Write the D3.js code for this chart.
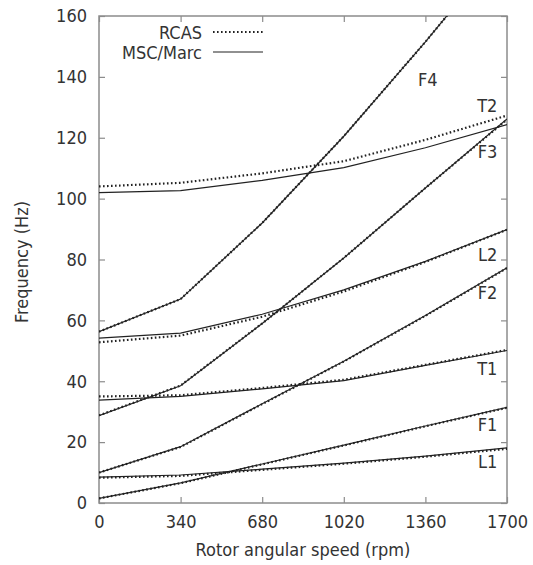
<!DOCTYPE html>
<html>
<head>
<meta charset="utf-8">
<script src="https://cdn.jsdelivr.net/npm/d3@7"></script>
<style>
  body { margin: 0; background: #fff; }
  text { font-family: "DejaVu Sans Condensed", "DejaVu Sans", sans-serif; font-stretch: condensed; fill: #333; }
</style>
</head>
<body>
<div id="cont"></div>
<script>
// Data
var speeds = [0, 340, 680, 1020, 1360, 1700];
var xTicks = [0, 340, 680, 1020, 1360, 1700];
var yTicks = [0, 20, 40, 60, 80, 100, 120, 140, 160];

var modes = ["L1", "F1", "T1", "F2", "L2", "F3", "T2", "F4"];

var rcas = {
  L1: [8.3, 8.9, 10.9, 12.9, 15.2, 17.8],
  F1: [1.5, 6.5, 12.7, 18.9, 25.2, 31.3],
  T1: [35.0, 35.4, 37.8, 40.5, 45.4, 50.3],
  F2: [10.0, 18.4, 32.5, 46.5, 61.5, 77.2],
  L2: [52.8, 55.0, 61.2, 69.5, 79.2, 89.8],
  F3: [28.8, 38.6, 59.0, 80.5, 103.5, 126.0],
  T2: [104.0, 105.2, 108.3, 112.3, 119.3, 127.3],
  F4: [56.3, 67.0, 92.0, 120.5, 151.5, 184.0]
};

var msc = {
  L1: [8.5, 9.2, 11.1, 13.1, 15.4, 18.1],
  F1: [1.5, 6.6, 12.8, 19.0, 25.3, 31.4],
  T1: [33.8, 35.0, 37.5, 40.2, 45.2, 50.1],
  F2: [10.0, 18.5, 32.6, 46.6, 61.6, 77.3],
  L2: [54.2, 55.8, 62.0, 70.0, 79.4, 89.8],
  F3: [28.7, 38.5, 59.0, 80.5, 103.5, 126.2],
  T2: [102.0, 102.6, 106.0, 110.2, 116.7, 124.3],
  F4: [56.3, 67.0, 92.0, 120.5, 151.5, 184.0]
};

// label positions in data units (right side)
var labelPos = {
  F4: [1370, 137],   T2: [1660, 128.5], F3: [1660, 113.5],
  L2: [1660, 79.5],  F2: [1660, 67],    T1: [1660, 42],
  F1: [1660, 23.5],  L1: [1660, 11.5]
};

// Layout
var W = 533, H = 565;
var pLeft = 99, pRight = 507, pTop = 16, pBottom = 503;
var grey = "#8c8c8c";
var ink = "#222";

var svg = d3.select("#cont").append("svg")
    .attr("width", W)
    .attr("height", H);

var x = d3.scaleLinear().domain([0, 1700]).range([pLeft, pRight]);
var y = d3.scaleLinear().domain([0, 160]).range([pBottom, pTop]);

svg.append("clipPath").attr("id", "clip")
  .append("rect")
    .attr("x", pLeft).attr("y", pTop)
    .attr("width", pRight - pLeft).attr("height", pBottom - pTop);

var line = d3.line()
    .x(function(d, i) { return x(speeds[i]); })
    .y(function(d) { return y(d); });

// axes (ticks inward, mirrored)
var fmt = d3.format("d");
var axB = svg.append("g").attr("transform", "translate(0," + pBottom + ")")
    .call(d3.axisBottom(x).tickValues(xTicks).tickSizeInner(-6).tickSizeOuter(0).tickPadding(12).tickFormat(fmt));
var axT = svg.append("g").attr("transform", "translate(0," + pTop + ")")
    .call(d3.axisTop(x).tickValues(xTicks).tickSizeInner(-6).tickSizeOuter(0).tickFormat(""));
var axL = svg.append("g").attr("transform", "translate(" + pLeft + ",0)")
    .call(d3.axisLeft(y).tickValues(yTicks).tickSizeInner(-6).tickSizeOuter(0).tickPadding(12).tickFormat(fmt));
var axR = svg.append("g").attr("transform", "translate(" + pRight + ",0)")
    .call(d3.axisRight(y).tickValues(yTicks).tickSizeInner(-6).tickSizeOuter(0).tickFormat(""));

[axB, axT, axL, axR].forEach(function(a) {
  a.select(".domain").remove();
  a.selectAll("line").attr("stroke", grey).attr("stroke-width", 1.2);
  a.selectAll("text").attr("font-size", 18).attr("fill", "#333")
    .style("font-family", "'DejaVu Sans Condensed', 'DejaVu Sans', sans-serif");
});

svg.append("rect")
    .attr("x", pLeft).attr("y", pTop)
    .attr("width", pRight - pLeft).attr("height", pBottom - pTop)
    .attr("fill", "none").attr("stroke", grey).attr("stroke-width", 1.5);

// curves
var plot = svg.append("g").attr("clip-path", "url(#clip)");

plot.selectAll(".msc").data(modes).enter().append("path")
    .attr("class", "msc")
    .attr("d", function(m) { return line(msc[m]); })
    .attr("fill", "none").attr("stroke", ink).attr("stroke-width", 1.2);

plot.selectAll(".rcas").data(modes).enter().append("path")
    .attr("class", "rcas")
    .attr("d", function(m) { return line(rcas[m]); })
    .attr("fill", "none").attr("stroke", ink).attr("stroke-width", 2.2)
    .attr("stroke-dasharray", "1.6,2.4");

// mode labels
svg.selectAll(".lab").data(modes).enter().append("text")
    .attr("class", "lab")
    .attr("x", function(m) { return x(labelPos[m][0]); })
    .attr("y", function(m) { return y(labelPos[m][1]); })
    .attr("text-anchor", function(m) { return m === "F4" ? "middle" : "end"; })
    .attr("font-size", 18)
    .text(function(m) { return m; });

// legend
var legend = [
  { name: "RCAS", dash: "1.6,2.4", w: 2.2, yy: 32 },
  { name: "MSC/Marc", dash: null, w: 1.2, yy: 52 }
];
var lg = svg.selectAll(".leg").data(legend).enter().append("g").attr("class", "leg");
lg.append("text")
    .attr("x", 202).attr("y", function(d) { return d.yy + 7; })
    .attr("text-anchor", "end").attr("font-size", 18)
    .text(function(d) { return d.name; });
lg.append("line")
    .attr("x1", 213).attr("x2", 263)
    .attr("y1", function(d) { return d.yy; }).attr("y2", function(d) { return d.yy; })
    .attr("stroke", ink).attr("stroke-width", function(d) { return d.w; })
    .attr("stroke-dasharray", function(d) { return d.dash; });

// axis titles
svg.append("text")
    .attr("x", (pLeft + pRight) / 2).attr("y", 556)
    .attr("text-anchor", "middle").attr("font-size", 18)
    .text("Rotor angular speed (rpm)");

svg.append("text")
    .attr("transform", "translate(28,262) rotate(-90)")
    .attr("text-anchor", "middle").attr("font-size", 18)
    .text("Frequency (Hz)");
</script>
</body>
</html>
